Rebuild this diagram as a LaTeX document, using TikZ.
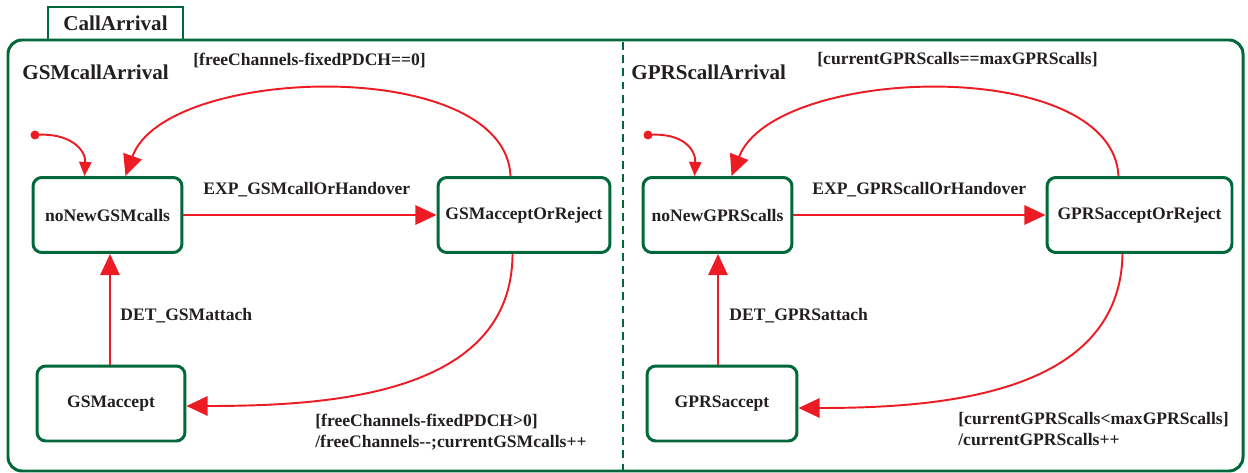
\documentclass[tikz,border=0pt]{standalone}
\usepackage{fontspec}
\setmainfont{Liberation Serif}
\usetikzlibrary{arrows.meta,calc}
\definecolor{stgreen}{RGB}{0,104,58}
\definecolor{trred}{RGB}{237,28,36}
\definecolor{ink}{RGB}{35,31,32}
\begin{document}
\begin{tikzpicture}[x=0.02cm,y=-0.02cm,
  every node/.style={font=\fontsize{10}{12}\selectfont\bfseries, text=ink},
  statebox/.style={draw=stgreen, line width=1.7pt, rounded corners=5pt, minimum height=1.5cm, inner sep=0pt},
  trans/.style={draw=trred, line width=1.1pt, -{Triangle[length=12pt,width=11pt]}},
  inittrans/.style={draw=trred, line width=1.1pt, -{Triangle[length=8pt,width=7pt]}},
  lbl/.style={inner sep=0pt, anchor=west},
  regionlbl/.style={inner sep=0pt, anchor=west, font=\fontsize{12}{14}\selectfont\bfseries}]
\useasboundingbox (0,0) rectangle (1248,473);

% outer composite state with its tab
\draw[stgreen, line width=1.7pt, rounded corners=8pt] (8,40) rectangle (1243,471);
\draw[stgreen, line width=1.7pt] (48,40) -- (48,7) -- (183,7) -- (183,40);
\node[font=\fontsize{12}{14}\selectfont\bfseries] (tab) at (115.5,23) {CallArrival};

% orthogonal regions
\draw[stgreen, line width=1.5pt, dash pattern=on 4.5pt off 3pt] (623,42) -- (623,470);
\node[regionlbl] (gsmreg) at (22,72) {GSMcallArrival};
\node[regionlbl] (gprsreg) at (631,72) {GPRScallArrival};

% ---- GSM region ----
\node[statebox, minimum width=2.98cm] (nnG) at (107.5,215) {noNewGSMcalls};
\node[statebox, minimum width=3.44cm] (gar) at (524,215) {GSMacceptOrReject};
\node[statebox, minimum width=2.96cm] (gacc) at (111,403.5) {GSMaccept};

\fill[trred] (35,135) circle (4.5);
\coordinate (initG) at (35,135);
\draw[inittrans] (initG) .. controls (70,132) and (86,150) .. ($(nnG.north west)+(53,0)$);

\draw[trans] (nnG.east) -- (gar.west);
\node[lbl] (lexpG) at (203,190) {EXP\_GSMcallOrHandover};

\draw[trans] ($(gar.north west)+(74,0)$) .. controls (505,55) and (165,65) .. ($(nnG.north west)+(94,0)$);
\node[lbl] (lrejG) at (193,60) {[freeChannels-fixedPDCH==0]};

\draw[trans] (gacc.north -| 110,0) -- (nnG.south -| 110,0);
\node[lbl] (ldetG) at (120,316) {DET\_GSMattach};

\draw[trans] ($(gar.south west)+(76,0)$) .. controls (512,395) and (330,406) .. (gacc.east |- 0,406);
\node[lbl, align=left] (laccG) at (315,432) {[freeChannels-fixedPDCH>0]\\/freeChannels{-}{-};currentGSMcalls++};

% ---- GPRS region ----
\node[statebox, minimum width=2.98cm] (nnP) at (717.5,215) {noNewGPRScalls};
\node[statebox, minimum width=3.7cm] (par) at (1139.5,215) {GPRSacceptOrReject};
\node[statebox, minimum width=3.0cm] (pacc) at (722,403.5) {GPRSaccept};

\fill[trred] (648,135) circle (4.5);
\coordinate (initP) at (648,135);
\draw[inittrans] (initP) .. controls (683,132) and (696,150) .. ($(nnP.north west)+(53,0)$);

\draw[trans] (nnP.east) -- (par.west);
\node[lbl] (lexpP) at (812,190) {EXP\_GPRScallOrHandover};

\draw[trans] ($(par.north west)+(73,0)$) .. controls (1112,55) and (775,65) .. ($(nnP.north west)+(90,0)$);
\node[lbl] (lrejP) at (817,60) {[currentGPRScalls==maxGPRScalls]};

\draw[trans] (pacc.north -| 718,0) -- (nnP.south -| 718,0);
\node[lbl] (ldetP) at (729,316) {DET\_GPRSattach};

\draw[trans] ($(par.south west)+(77,0)$) .. controls (1120,395) and (940,408) .. (pacc.east |- 0,408);
\node[lbl, align=left] (laccP) at (958,429) {[currentGPRScalls<maxGPRScalls]\\/currentGPRScalls++};
\end{tikzpicture}
\end{document}
